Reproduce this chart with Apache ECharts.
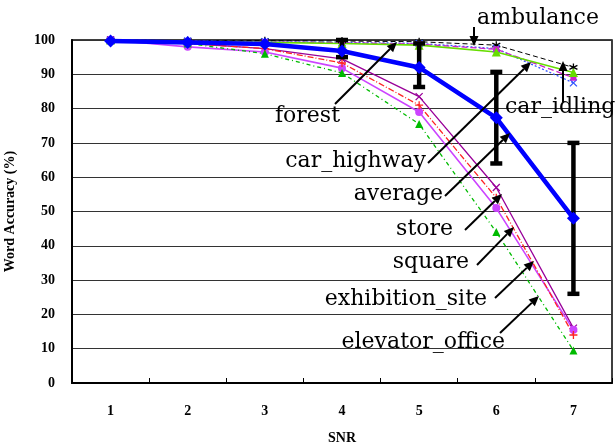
<!DOCTYPE html>
<html>
<head>
<meta charset="utf-8">
<script src="https://cdn.jsdelivr.net/npm/echarts@6/dist/echarts.min.js"></script>
<style>
  html, body { margin: 0; padding: 0; background: #fff; }
  #chart { width: 616px; height: 447px; }
</style>
</head>
<body>
<div id="chart"></div>
<script>
// SNR levels on the x axis
const snr = ['1', '2', '3', '4', '5', '6', '7'];
const yTicks = [0, 10, 20, 30, 40, 50, 60, 70, 80, 90, 100];

// Word accuracy (%) per noise type
const ambulance      = [100, 99.8, 99.8, 99.7, 99.5, 98.5, 92];
const carIdling      = [100, 99.7, 99.5, 99.3, 99.0, 97.5, 87.5];
const forest         = [100, 99.5, 99.3, 99.0, 98.5, 96.5, 90.5];
const carHighway     = [100, 99.6, 99.4, 99.2, 98.8, 97.3, 89];
const store          = [100, 99.0, 97.5, 94.5, 83.5, 57, 16];
const square         = [100, 98.0, 96.5, 91.8, 79, 51, 15.5];
const exhibitionSite = [100, 99.0, 97.5, 93.3, 81, 54, 14];
const elevatorOffice = [100, 99.0, 96.0, 90.4, 75.5, 44, 9.5];
const average        = [99.7, 99.3, 98.8, 96.8, 92, 77.3, 48];

// Spread around the average (low, high)
const errLow  = [null, null, null, 95, 86.3, 64, 26];
const errHigh = [null, null, null, 100, 99, 90.7, 70];

const SERIF = '"Liberation Serif", "Times New Roman", serif';
const LABEL_FONT = '"DejaVu Serif", serif';

// stroked marker shapes
const SYM_X = 'path://M0,0L10,10M10,0L0,10';
const SYM_PLUS = 'path://M5,0L5,10M0,5L10,5';
const SYM_STAR = 'path://M5,0L5,10M0,2.5L10,7.5M10,2.5L0,7.5';

function noiseSeries(name, data, color, type, width, symbol, size, filled) {
  return {
    name: name, type: 'line', data: data,
    symbol: symbol, symbolSize: size, showSymbol: true,
    lineStyle: { color: color, width: width, type: type },
    itemStyle: { color: filled ? color : 'rgba(0,0,0,0)', borderColor: color, borderWidth: filled ? 0 : 1.3 },
    z: 3, animation: false
  };
}

// Arrow helper for the callout labels
function arrow(x1, y1, x2, y2) {
  const ang = Math.atan2(y2 - y1, x2 - x1);
  const L = 10, W = 4.5;
  const bx = x2 - L * Math.cos(ang), by = y2 - L * Math.sin(ang);
  const px = -Math.sin(ang) * W, py = Math.cos(ang) * W;
  return [
    { type: 'line', shape: { x1: x1, y1: y1, x2: bx, y2: by }, style: { stroke: '#000', lineWidth: 2 }, z: 20 },
    { type: 'polygon', shape: { points: [[x2, y2], [bx + px, by + py], [bx - px, by - py]] }, style: { fill: '#000' }, z: 20 }
  ];
}
function label(text, x, y, align) {
  return { type: 'text', x: x, y: y, z: 21,
    style: { text: text, fill: '#000', font: '22px ' + LABEL_FONT, textAlign: align, textVerticalAlign: 'middle' } };
}

const callouts = [
  label('ambulance', 538, 18, 'center'), ...arrow(474, 27, 474, 46),
  label('forest', 340, 116, 'right'), ...arrow(335, 104, 397, 42),
  label('car_idling', 505, 107, 'left'), ...arrow(563, 102, 563, 61),
  label('car_highway', 426, 161, 'right'), ...arrow(428, 163, 531, 62),
  label('average', 443, 194, 'right'), ...arrow(445, 196, 510, 133),
  label('store', 453, 229, 'right'), ...arrow(465, 230, 502, 194),
  label('square', 469, 262, 'right'), ...arrow(477, 265, 514, 227),
  label('exhibition_site', 487, 299, 'right'), ...arrow(495, 298, 534, 261),
  label('elevator_office', 505, 342, 'right'), ...arrow(500, 333, 539, 296)
];

const chart = echarts.init(document.getElementById('chart'), null, { renderer: 'canvas' });

chart.setOption({
  animation: false,
  backgroundColor: '#fff',
  grid: { left: 72, right: 4, top: 40, bottom: 64, containLabel: false, outerBoundsMode: 'none',
          show: true, borderColor: '#000', borderWidth: 1.5, backgroundColor: 'transparent' },
  xAxis: {
    type: 'category', data: snr, boundaryGap: true,
    name: 'SNR', nameLocation: 'middle', nameGap: 48,
    nameTextStyle: { fontFamily: SERIF, fontWeight: 'bold', fontSize: 14, color: '#000' },
    axisLine: { lineStyle: { color: '#000', width: 2 } },
    axisTick: { show: true, inside: true, length: 5, lineStyle: { color: '#000', width: 1 } },
    axisLabel: { fontFamily: SERIF, fontWeight: 'bold', fontSize: 14, color: '#000', margin: 21 },
    splitLine: { show: false }
  },
  yAxis: {
    type: 'value', min: yTicks[0], max: yTicks[yTicks.length - 1], interval: 10,
    name: 'Word Accuracy (%)', nameLocation: 'middle', nameGap: 55,
    nameTextStyle: { fontFamily: SERIF, fontWeight: 'bold', fontSize: 14, color: '#000' },
    axisLine: { show: true, lineStyle: { color: '#000', width: 2 } },
    axisTick: { show: false },
    axisLabel: { fontFamily: SERIF, fontWeight: 'bold', fontSize: 14, color: '#000', margin: 17 },
    splitLine: { show: true, lineStyle: { color: '#333', width: 1 } }
  },
  series: [
    noiseSeries('ambulance', ambulance, '#000000', [5, 3], 1, SYM_STAR, 8, false),
    noiseSeries('car_idling', carIdling, '#3355ff', [2, 2], 1.3, SYM_X, 7, false),
    noiseSeries('car_highway', carHighway, '#cc22cc', [6, 3], 1.3, 'rect', 6, true),
    noiseSeries('forest', forest, '#66dd00', 'solid', 1.6, 'triangle', 9, true),
    noiseSeries('store', store, '#990099', 'solid', 1.3, SYM_X, 7, false),
    noiseSeries('square', square, '#cc44ff', 'solid', 1.6, 'circle', 8, true),
    noiseSeries('exhibition_site', exhibitionSite, '#ff2222', [6, 2, 1, 2], 1.3, SYM_PLUS, 8, false),
    noiseSeries('elevator_office', elevatorOffice, '#00bb00', [4, 3, 1, 3], 1.3, 'triangle', 8, true),
    {
      name: 'spread', type: 'custom', z: 5,
      data: snr.map((s, i) => [i, errLow[i], errHigh[i]]).filter(d => d[1] != null),
      renderItem: function (params, api) {
        const lo = api.coord([api.value(0), api.value(1)]);
        const hi = api.coord([api.value(0), api.value(2)]);
        const c = 6;
        const st = { stroke: '#000', lineWidth: 4.5 };
        return { type: 'group', children: [
          { type: 'line', shape: { x1: lo[0], y1: lo[1], x2: hi[0], y2: hi[1] }, style: st },
          { type: 'line', shape: { x1: lo[0] - c, y1: lo[1], x2: lo[0] + c, y2: lo[1] }, style: st },
          { type: 'line', shape: { x1: hi[0] - c, y1: hi[1], x2: hi[0] + c, y2: hi[1] }, style: st }
        ]};
      },
      animation: false
    },
    {
      name: 'average', type: 'line', data: average, z: 8,
      symbol: 'diamond', symbolSize: 13,
      lineStyle: { color: '#0000ff', width: 4.5 },
      itemStyle: { color: '#0000ff' },
      animation: false
    }
  ],
  graphic: callouts
});
</script>
</body>
</html>
